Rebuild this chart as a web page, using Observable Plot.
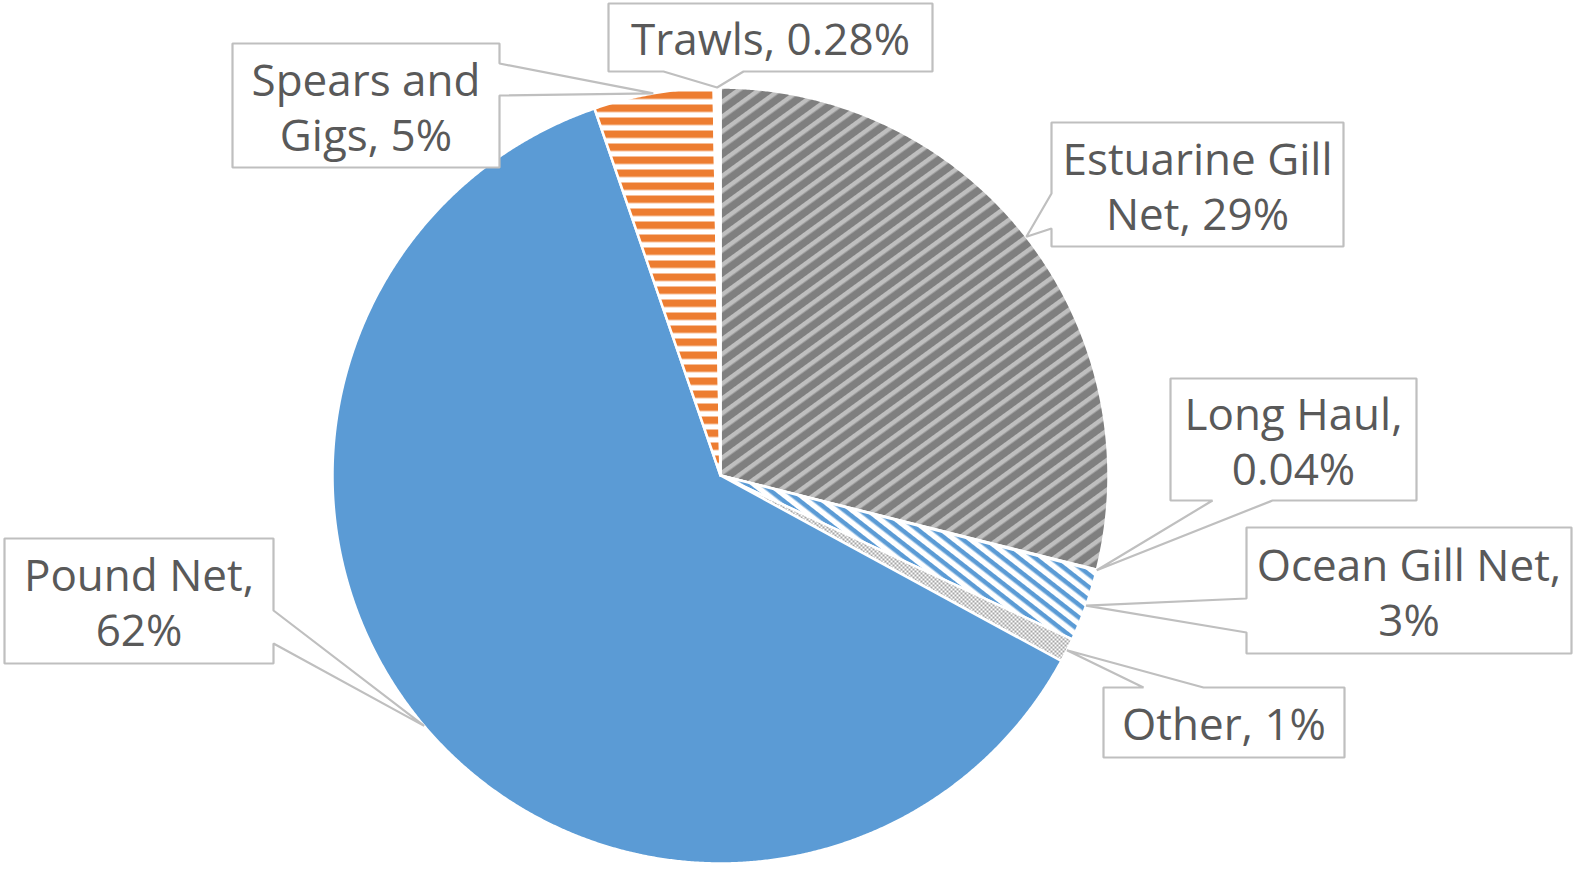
<!DOCTYPE html>
<html>
<head>
<meta charset="utf-8">
<script src="https://cdn.jsdelivr.net/npm/d3@7"></script>
<script src="https://cdn.jsdelivr.net/npm/@observablehq/plot@0.6"></script>
<style>
  html, body { margin: 0; padding: 0; background: #ffffff; }
  #chart svg { display: block; }
</style>
</head>
<body>
<div id="chart"></div>
<script>
// ---- data ----
const categories = ["Estuarine Gill Net", "Long Haul", "Ocean Gill Net", "Other", "Pound Net", "Spears and Gigs", "Trawls"];
const values = [29, 0.04, 3, 1, 62, 5, 0.28];
const labelTexts = ["Estuarine Gill\nNet, 29%", "Long Haul,\n0.04%", "Ocean Gill Net,\n3%", "Other, 1%", "Pound Net,\n62%", "Spears and\nGigs, 5%", "Trawls, 0.28%"];

// ---- styles ----
const sliceFills = ["url(#pEst)", "#ffffff", "url(#pOcean)", "url(#pOther)", "#5b9bd5", "url(#pSpears)", "#ffffff"];

// ---- layout ----
const W = 1575, H = 869;
const CX = 720, CY = 475, R = 388;
// callout boxes (pixel layout) and where the pointer leaves the box
const calloutLayout = [
  {cat: "Estuarine Gill Net", x1: 1051, y1: 122, x2: 1343, y2: 246, side: "left", b: [193, 228]},
  {cat: "Long Haul", x1: 1170, y1: 378, x2: 1416, y2: 500, side: "bottom", b: [1212, 1272]},
  {cat: "Ocean Gill Net", x1: 1246, y1: 527, x2: 1571, y2: 653, side: "left", b: [598, 632]},
  {cat: "Other", x1: 1103, y1: 687, x2: 1344, y2: 757, side: "top", b: [1143, 1203]},
  {cat: "Pound Net", x1: 4, y1: 538, x2: 273, y2: 663, side: "right", b: [610, 643]},
  {cat: "Spears and Gigs", x1: 232, y1: 43, x2: 499, y2: 167, side: "right", b: [63, 95]},
  {cat: "Trawls", x1: 608, y1: 3, x2: 932, y2: 71, side: "bottom", b: [663, 743]}
];

// ---- pie geometry from the values ----
const arcs = d3.pie().sort(null).value(d => d.value)(categories.map((c, i) => ({cat: c, value: values[i]})));
const slicePts = [];
const tips = new Map();
arcs.forEach(s => {
  const c = s.data.cat;
  slicePts.push({cat: c, x: CX, y: CY});
  const n = Math.max(2, Math.ceil((s.endAngle - s.startAngle) / (Math.PI / 720)));
  for (let k = 0; k <= n; k++) {
    const a = s.startAngle + (s.endAngle - s.startAngle) * k / n;
    slicePts.push({cat: c, x: CX + R * Math.sin(a), y: CY - R * Math.cos(a)});
  }
  const m = (s.startAngle + s.endAngle) / 2;
  tips.set(c, {x: CX + R * Math.sin(m), y: CY - R * Math.cos(m)});
});

// ---- callout polygons ----
const calloutPts = [];
calloutLayout.forEach(L => {
  const t = tips.get(L.cat);
  const P = [];
  P.push([L.x1, L.y1]);
  if (L.side === "top") { P.push([L.b[0], L.y1], [t.x, t.y], [L.b[1], L.y1]); }
  P.push([L.x2, L.y1]);
  if (L.side === "right") { P.push([L.x2, L.b[0]], [t.x, t.y], [L.x2, L.b[1]]); }
  P.push([L.x2, L.y2]);
  if (L.side === "bottom") { P.push([L.b[1], L.y2], [t.x, t.y], [L.b[0], L.y2]); }
  P.push([L.x1, L.y2]);
  if (L.side === "left") { P.push([L.x1, L.b[1]], [t.x, t.y], [L.x1, L.b[0]]); }
  P.forEach(([x, y]) => calloutPts.push({cat: L.cat, x, y}));
});
const labelRows = calloutLayout.map(L => ({
  cat: L.cat,
  x: (L.x1 + L.x2) / 2,
  y: (L.y1 + L.y2) / 2,
  text: labelTexts[categories.indexOf(L.cat)]
}));

const chart = Plot.plot({
  width: W,
  height: H,
  margin: 0,
  x: {domain: [0, W], range: [0, W], axis: null},
  y: {domain: [0, H], range: [0, H], axis: null},
  color: {type: "ordinal", domain: categories, range: sliceFills},
  style: {background: "#ffffff"},
  marks: [
    Plot.line(slicePts, {x: "x", y: "y", z: "cat", fill: "cat", stroke: "#ffffff", strokeWidth: 2.5, strokeLinejoin: "round", curve: "linear-closed"}),
    Plot.line(calloutPts, {x: "x", y: "y", z: "cat", fill: "#ffffff", stroke: "#bfbfbf", strokeWidth: 2.2, strokeLinejoin: "miter", curve: "linear-closed"}),
    Plot.text(labelRows, {x: "x", y: "y", text: "text", fill: "#595959", fontSize: 44, lineHeight: 1.25, fontFamily: "'Open Sans', 'Noto Sans', sans-serif", textAnchor: "middle"})
  ]
});

// pattern definitions
const NS = "http://www.w3.org/2000/svg";
const defs = document.createElementNS(NS, "defs");
defs.innerHTML = `
  <pattern id="pEst" patternUnits="userSpaceOnUse" width="12" height="12" patternTransform="rotate(-36)">
    <rect width="12" height="12" fill="#7f7f7f"/>
    <rect y="0" width="12" height="4.5" fill="#bfbfbf"/>
  </pattern>
  <pattern id="pOcean" patternUnits="userSpaceOnUse" width="10" height="10" patternTransform="rotate(38)">
    <rect width="10" height="10" fill="#ffffff"/>
    <rect y="0" width="10" height="4.5" fill="#5b9bd5"/>
  </pattern>
  <pattern id="pOther" patternUnits="userSpaceOnUse" width="4" height="4">
    <rect width="4" height="4" fill="#ffffff"/>
    <rect x="0" y="0" width="2" height="2" fill="#a5a5a5"/>
    <rect x="2" y="2" width="2" height="2" fill="#a5a5a5"/>
  </pattern>
  <pattern id="pSpears" patternUnits="userSpaceOnUse" width="13" height="13">
    <rect width="13" height="13" fill="#ffffff"/>
    <rect y="0" width="13" height="7.5" fill="#ed7d31"/>
  </pattern>`;
const svg = chart.tagName.toLowerCase() === "svg" ? chart : chart.querySelector("svg");
svg.insertBefore(defs, svg.firstChild);
document.getElementById("chart").appendChild(chart);
</script>
</body>
</html>
